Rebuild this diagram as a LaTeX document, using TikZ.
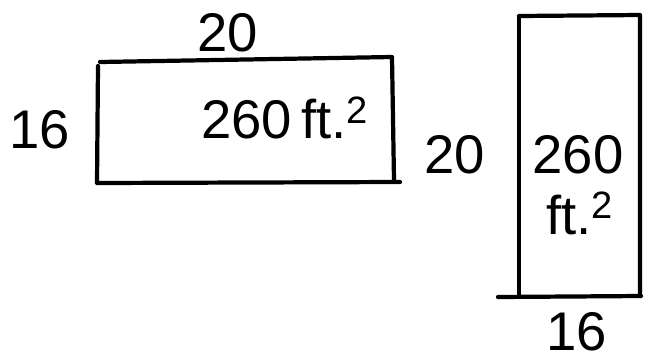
\documentclass[tikz,border=0pt]{standalone}
\usepackage{fontspec}
\setmainfont{Liberation Sans}
\usepackage{xcolor}
\definecolor{InkBlack}{HTML}{000000}
\tikzset{
  ink/.style={InkBlack,line width=2.4pt,line cap=round,line join=round},
  handtext/.style={InkBlack,font=\fontsize{31}{33}\selectfont,inner sep=0pt}
}
\begin{document}
\begin{tikzpicture}[x=0.02cm,y=-0.02cm]
\path[use as bounding box] (0,0) rectangle (657,363);
% wide room
\draw[ink] (100,62) -- (392,57) -- (394,180);
\draw[ink] (98,66) -- (97,183) -- (400,182);
\node[handtext] (wideTop) at (228,33) {20};
\node[handtext] (wideSide) at (40,130) {16};
\node[handtext] (wideArea) at (285,118) {260\,ft.\textsuperscript{2}};
% tall room
\draw[ink] (519,17) -- (519,296);
\draw[ink] (519,16) -- (640,15) -- (640,296);
\draw[ink] (498,297) -- (641,296);
\node[handtext] (tallSide) at (455,155) {20};
\node[handtext] (tallArea) at (578,155) {260};
\node[handtext] (tallUnit) at (580,213) {ft.\textsuperscript{2}};
\node[handtext] (tallBottom) at (577,332) {16};
\end{tikzpicture}
\end{document}
